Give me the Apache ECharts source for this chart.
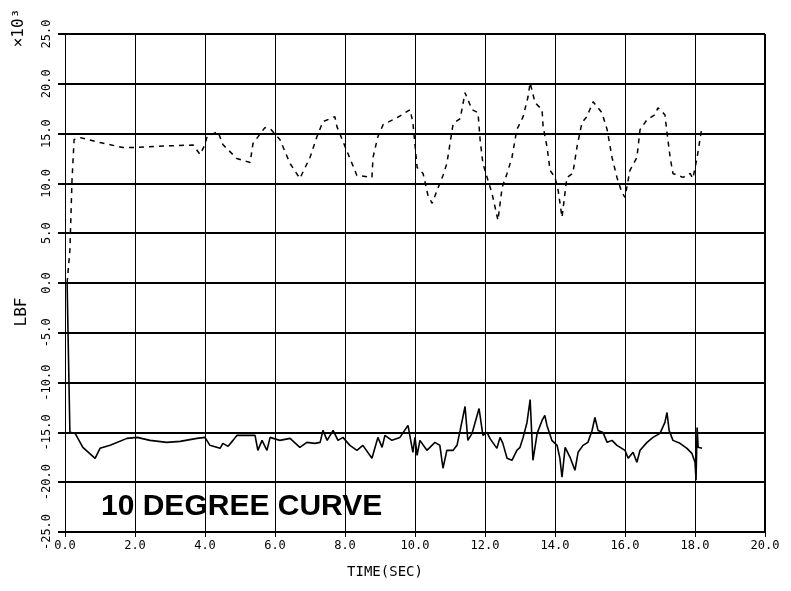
<!DOCTYPE html>
<html>
<head>
<meta charset="utf-8">
<script src="https://cdn.jsdelivr.net/npm/echarts@6/dist/echarts.min.js"></script>
<style>
  html, body { margin: 0; padding: 0; background: #fff; }
  #chart { width: 791px; height: 591px; }
</style>
</head>
<body>
<div id="chart"></div>
<script>
// axis ranges
const xTicks = [0, 2, 4, 6, 8, 10, 12, 14, 16, 18, 20]
const yTicks = [-25, -20, -15, -10, -5, 0, 5, 10, 15, 20, 25]

// dashed curve (upper), [time sec, LBF x10^3]
const dashedCurve = [
  [0.06, 0.0], [0.14, 3.3], [0.2, 10.3], [0.26, 14.4], [0.43, 14.6], [1.0, 14.1],
  [1.66, 13.6], [2.0, 13.6], [2.8, 13.75], [3.66, 13.85], [3.86, 12.9], [4.0, 13.9],
  [4.06, 14.7], [4.37, 15.2], [4.51, 13.9], [4.91, 12.5], [5.29, 12.1], [5.37, 14.0],
  [5.71, 15.6], [5.86, 15.5], [6.14, 14.4], [6.43, 12.0], [6.71, 10.5], [7.0, 12.6],
  [7.2, 14.7], [7.37, 16.2], [7.71, 16.7], [7.77, 15.7], [8.06, 13.2], [8.34, 10.8],
  [8.77, 10.6], [8.8, 12.6], [8.94, 14.7], [9.09, 15.9], [9.49, 16.6], [9.86, 17.4],
  [9.94, 16.1], [10.06, 11.6], [10.23, 11.0], [10.37, 8.8], [10.49, 8.0], [10.63, 9.3],
  [10.8, 10.8], [10.91, 12.0], [11.0, 14.0], [11.09, 16.0], [11.29, 16.5], [11.43, 19.1],
  [11.63, 17.4], [11.8, 17.1], [11.86, 14.4], [11.94, 12.0], [12.06, 10.6], [12.2, 9.0],
  [12.37, 6.3], [12.49, 9.6], [12.63, 11.0], [12.77, 12.6], [12.91, 15.4], [13.09, 16.7],
  [13.23, 18.7], [13.29, 20.1], [13.43, 18.1], [13.63, 17.4], [13.66, 15.7], [13.77, 13.7],
  [13.86, 11.3], [14.0, 10.6], [14.09, 9.3], [14.2, 6.6], [14.34, 10.6], [14.51, 11.0],
  [14.63, 13.7], [14.77, 16.1], [14.91, 16.7], [15.09, 18.2], [15.34, 17.1], [15.49, 15.4],
  [15.63, 12.6], [15.77, 10.6], [15.91, 9.1], [16.0, 8.6], [16.14, 11.3], [16.34, 12.6],
  [16.43, 15.4], [16.63, 16.4], [16.86, 16.9], [16.94, 17.6], [17.14, 16.9], [17.2, 15.1],
  [17.29, 12.6], [17.37, 11.0], [17.66, 10.6], [17.86, 11.0], [17.94, 10.5], [18.06, 12.6],
  [18.2, 15.7]
]

// solid curve (lower)
const solidCurve = [
  [0.06, 0.0], [0.14, -15.0], [0.29, -15.1], [0.51, -16.5], [0.86, -17.6], [1.0, -16.6],
  [1.29, -16.3], [1.77, -15.6], [2.06, -15.5], [2.43, -15.8], [2.91, -16.0], [3.29, -15.9],
  [3.77, -15.6], [4.0, -15.5], [4.14, -16.3], [4.43, -16.6], [4.51, -16.1], [4.66, -16.4],
  [4.8, -15.8], [4.91, -15.3], [5.43, -15.3], [5.51, -16.8], [5.63, -15.8], [5.77, -16.8],
  [5.86, -15.5], [6.14, -15.8], [6.43, -15.6], [6.71, -16.5], [6.91, -16.0], [7.14, -16.1],
  [7.29, -16.0], [7.37, -14.8], [7.49, -15.8], [7.66, -14.8], [7.8, -15.8], [7.94, -15.5],
  [8.14, -16.3], [8.34, -16.8], [8.51, -16.3], [8.77, -17.6], [8.86, -16.5], [8.94, -15.5],
  [9.06, -16.5], [9.14, -15.3], [9.34, -15.8], [9.57, -15.5], [9.8, -14.3], [9.94, -17.0],
  [10.0, -15.5], [10.06, -17.3], [10.14, -15.8], [10.34, -16.8], [10.57, -16.0], [10.71, -16.3],
  [10.8, -18.6], [10.91, -16.8], [11.09, -16.8], [11.2, -16.3], [11.29, -14.8], [11.43, -12.4],
  [11.51, -15.8], [11.63, -15.1], [11.71, -14.1], [11.83, -12.6], [11.94, -15.3], [12.06, -15.0],
  [12.14, -15.6], [12.34, -16.6], [12.43, -15.5], [12.51, -16.1], [12.63, -17.6], [12.77, -17.8],
  [12.91, -16.8], [13.0, -16.5], [13.09, -15.5], [13.2, -14.0], [13.29, -11.7], [13.37, -17.8],
  [13.49, -15.1], [13.63, -13.8], [13.71, -13.3], [13.77, -14.3], [13.91, -15.8], [14.06, -16.3],
  [14.14, -17.6], [14.2, -19.5], [14.29, -16.5], [14.43, -17.5], [14.57, -18.8], [14.66, -17.0],
  [14.8, -16.3], [14.94, -16.0], [15.06, -14.8], [15.14, -13.5], [15.23, -14.8], [15.37, -15.0],
  [15.49, -16.0], [15.63, -15.8], [15.77, -16.3], [16.0, -16.8], [16.09, -17.6], [16.23, -17.0],
  [16.34, -18.0], [16.43, -16.8], [16.63, -16.0], [16.8, -15.5], [17.0, -15.1], [17.14, -14.0],
  [17.2, -13.0], [17.26, -14.8], [17.37, -15.8], [17.57, -16.1], [17.77, -16.6], [17.91, -17.1],
  [18.0, -18.0], [18.03, -19.8], [18.06, -14.5], [18.09, -16.5], [18.2, -16.6]
]

const labelFont = "'DejaVu Sans Mono', monospace"

const chart = echarts.init(document.getElementById('chart'))
chart.setOption({
  backgroundColor: '#fff',
  animation: false,
  grid: { left: 65, right: 26, top: 34, bottom: 59 },
  xAxis: {
    type: 'value',
    min: xTicks[0],
    max: xTicks[xTicks.length - 1],
    interval: 2,
    axisLine: { show: true, onZero: false, lineStyle: { color: '#000', width: 2 } },
    axisTick: { show: true, length: 5, lineStyle: { color: '#000', width: 1 } },
    axisLabel: {
      color: '#000', fontFamily: labelFont, fontSize: 12, margin: 8,
      formatter: v => v.toFixed(1)
    },
    splitLine: { show: true, lineStyle: { color: '#000', width: 1 } }
  },
  yAxis: {
    type: 'value',
    min: yTicks[0],
    max: yTicks[yTicks.length - 1],
    interval: 5,
    axisLine: { show: true, onZero: false, lineStyle: { color: '#000', width: 1 } },
    axisTick: { show: true, length: 7, lineStyle: { color: '#000', width: 2 } },
    axisLabel: {
      color: '#000', fontFamily: labelFont, fontSize: 12, margin: 12, rotate: 90,
      formatter: v => v.toFixed(1)
    },
    splitLine: { show: true, lineStyle: { color: '#000', width: 2 } }
  },
  graphic: [
    {
      type: 'rect', left: 764, top: 34, silent: true,
      shape: { width: 1, height: 498 }, style: { fill: '#000' }
    },
    {
      type: 'text', x: 19, y: 28, rotation: Math.PI / 2, silent: true,
      style: {
        text: '\u00d710\u00b3', fill: '#000', font: "16px 'DejaVu Sans Mono', monospace",
        align: 'center', verticalAlign: 'middle'
      }
    },
    {
      type: 'text', x: 22, y: 312, rotation: Math.PI / 2, silent: true,
      style: {
        text: 'LBF', fill: '#000', font: "16px 'DejaVu Sans Mono', monospace",
        align: 'center', verticalAlign: 'middle'
      }
    },
    {
      type: 'text', x: 385, y: 572, silent: true,
      style: {
        text: 'TIME(SEC)', fill: '#000', font: "14px 'DejaVu Sans Mono', monospace",
        align: 'center', verticalAlign: 'middle'
      }
    },
    {
      type: 'text', x: 101, y: 507, silent: true,
      style: {
        text: '10 DEGREE CURVE', fill: '#000',
        font: "bold 30px 'Liberation Sans', Arial, sans-serif",
        align: 'left', verticalAlign: 'middle'
      }
    }
  ],
  series: [
    {
      name: 'dashed',
      type: 'line',
      data: dashedCurve,
      showSymbol: false,
      lineStyle: { color: '#000', width: 1.5, type: [5, 5] }
    },
    {
      name: 'solid',
      type: 'line',
      data: solidCurve,
      showSymbol: false,
      lineStyle: { color: '#000', width: 1.6 }
    }
  ]
})
</script>
</body>
</html>
